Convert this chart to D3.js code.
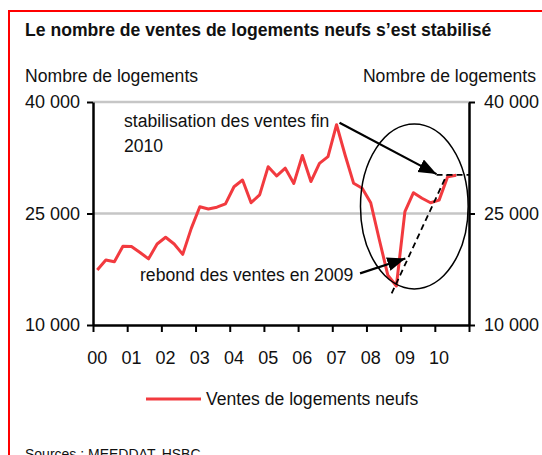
<!DOCTYPE html>
<html>
<head>
<meta charset="utf-8">
<script src="https://cdn.jsdelivr.net/npm/d3@7"></script>
<style>
  body { margin: 0; background: #fff; }
  svg { display: block; font-family: "Liberation Sans", Arial, sans-serif; }
</style>
</head>
<body>
<main></main>
<script>
const width = 542;
const height = 455;

// données trimestrielles, 2000 T1 -> 2010 T3
const years = ["00", "01", "02", "03", "04", "05", "06", "07", "08", "09", "10"];
const quarters = years.flatMap(y => ["T1", "T2", "T3", "T4"].map(q => y + q));
const ventes = [
    17400, 18750, 18500, 20600, 20550, 19750, 18900, 20900, 21800, 20900,
    19500, 23000, 25900, 25600, 25850, 26300, 28600, 29500, 26450, 27500,
    31300, 30050, 31100, 29050, 32800, 29300, 31750, 32650, 36950, 32870,
    29060, 28400, 26450, 21500, 16700, 15250, 25250, 27800, 27050, 26450,
    26800, 29950, 30150
];
const yTicks = [10000, 25000, 40000];
const gridValues = [25000, 40000];

// annotations (position en trimestres depuis 2000 T1, valeur)
const trend = [[34.95, 14250], [41.4, 30200]];
const plateau = [[40.2, 30200], [44, 30200]];
const ellipse = {i: 37.6, v: 25950, di: 6.3, dv: 11100};
const arrowStab = [[28.85, 37200], [40.2, 30300]];
const arrowRebond = [[31.25, 16950], [36.55, 18950]];

const svg = d3.select("main")
              .append("svg")
              .attr("width", width)
              .attr("height", height);

svg.append("rect")
   .attr("x", 9).attr("y", 11)
   .attr("width", 620).attr("height", 520)
   .attr("fill", "none")
   .attr("stroke", "#ff0000")
   .attr("stroke-width", 2);

const x = d3.scaleBand().domain(quarters).range([93, 469]);
const xi = d3.scaleLinear().domain([0, quarters.length]).range([93, 469]);
const y = d3.scaleLinear().domain([10000, 40000]).range([325, 102]);
const xc = (i) => xi(i + 0.5);
const fmt = (d) => d3.format(",")(d).replace(",", " ");

// grille
svg.append("g")
   .selectAll("line")
   .data(gridValues)
   .enter()
   .append("line")
   .attr("x1", 93).attr("x2", 469)
   .attr("y1", d => y(d)).attr("y2", d => y(d))
   .attr("stroke", "#c6c6c6")
   .attr("stroke-width", 2.5);

const styleAxis = (g) => {
    g.select(".domain").attr("stroke", "#000").attr("stroke-width", 2.5);
    g.selectAll(".tick line").attr("stroke", "#000").attr("stroke-width", 2);
    g.selectAll(".tick text")
     .attr("fill", "#111")
     .style("font-size", "18px");
};

svg.append("g")
   .attr("transform", "translate(93,0)")
   .call(d3.axisLeft(y).tickValues(yTicks).tickFormat(fmt).tickSize(6).tickSizeOuter(0).tickPadding(7))
   .call(styleAxis);

svg.append("g")
   .attr("transform", "translate(469,0)")
   .call(d3.axisRight(y).tickValues(yTicks).tickFormat(fmt).tickSize(6).tickSizeOuter(0).tickPadding(9))
   .call(styleAxis);

svg.append("g")
   .attr("transform", "translate(0,325)")
   .call(d3.axisBottom(xi).tickValues(d3.range(0, quarters.length + 1, 4)).tickFormat("").tickSize(7).tickSizeOuter(0))
   .call(styleAxis);

svg.append("g")
   .selectAll("text")
   .data(years)
   .enter()
   .append("text")
   .attr("x", d => x(d + "T1") + x.bandwidth() / 2)
   .attr("y", 364)
   .attr("text-anchor", "middle")
   .attr("fill", "#111")
   .style("font-size", "18px")
   .text(d => d);

// titres
svg.append("text")
   .attr("x", 25).attr("y", 36)
   .attr("fill", "#111")
   .style("font-size", "17.6px")
   .style("font-weight", "bold")
   .text("Le nombre de ventes de logements neufs s\u2019est stabilisé");

svg.append("text")
   .attr("x", 25).attr("y", 82)
   .attr("fill", "#111")
   .style("font-size", "17.6px")
   .text("Nombre de logements");

svg.append("text")
   .attr("x", 536).attr("y", 82)
   .attr("text-anchor", "end")
   .attr("fill", "#111")
   .style("font-size", "17.6px")
   .text("Nombre de logements");

// série
svg.append("path")
   .datum(ventes)
   .attr("fill", "none")
   .attr("stroke", "#f23a3f")
   .attr("stroke-width", 3)
   .attr("stroke-linejoin", "round")
   .attr("d", d3.line().x((d, i) => xc(i)).y(d => y(d)));

// annotations
const defs = svg.append("defs");
defs.append("marker")
    .attr("id", "arrow")
    .attr("markerUnits", "userSpaceOnUse")
    .attr("markerWidth", 20).attr("markerHeight", 16)
    .attr("refX", 18).attr("refY", 7)
    .attr("orient", "auto")
    .append("path")
    .attr("d", "M0,0 L18,7 L0,14 Z")
    .attr("fill", "#000");

const pt = d3.line().x(d => xi(d[0])).y(d => y(d[1]));

svg.append("ellipse")
   .attr("cx", xi(ellipse.i))
   .attr("cy", y(ellipse.v))
   .attr("rx", xi(ellipse.i + ellipse.di) - xi(ellipse.i))
   .attr("ry", y(ellipse.v - ellipse.dv) - y(ellipse.v))
   .attr("fill", "none")
   .attr("stroke", "#000")
   .attr("stroke-width", 1.5);

[trend, plateau].forEach(seg => {
    svg.append("path")
       .attr("d", pt(seg))
       .attr("fill", "none")
       .attr("stroke", "#000")
       .attr("stroke-width", 1.8)
       .attr("stroke-dasharray", "6,4");
});

[arrowStab, arrowRebond].forEach(seg => {
    svg.append("path")
       .attr("d", pt(seg))
       .attr("stroke", "#000")
       .attr("stroke-width", 2.2)
       .attr("marker-end", "url(#arrow)");
});

svg.append("text")
   .attr("x", 124).attr("y", 127)
   .attr("fill", "#111")
   .style("font-size", "17.6px")
   .text("stabilisation des ventes fin");

svg.append("text")
   .attr("x", 124).attr("y", 152)
   .attr("fill", "#111")
   .style("font-size", "17.6px")
   .text("2010");

svg.append("text")
   .attr("x", 140).attr("y", 281)
   .attr("fill", "#111")
   .style("font-size", "17.6px")
   .text("rebond des ventes en 2009");

// légende
svg.append("line")
   .attr("x1", 146).attr("x2", 201)
   .attr("y1", 399).attr("y2", 399)
   .attr("stroke", "#f23a3f")
   .attr("stroke-width", 3);

svg.append("text")
   .attr("x", 206).attr("y", 405)
   .attr("fill", "#111")
   .style("font-size", "17.6px")
   .text("Ventes de logements neufs");

svg.append("text")
   .attr("x", 25).attr("y", 459)
   .attr("fill", "#111")
   .style("font-size", "14px")
   .text("Sources : MEEDDAT, HSBC");
</script>
</body>
</html>
